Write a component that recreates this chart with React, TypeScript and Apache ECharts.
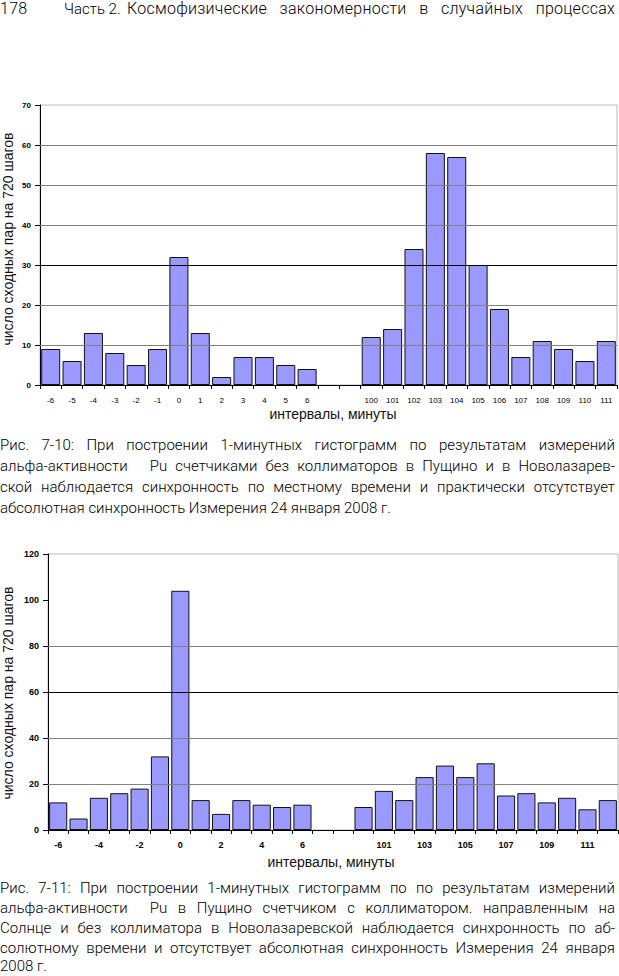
import React, { useEffect, useRef } from "react";
import * as echarts from "echarts";

// ---------- data ----------
const cats1 = ["-6", "-5", "-4", "-3", "-2", "-1", "0", "1", "2", "3", "4", "5", "6", " ", "  ",
  "100", "101", "102", "103", "104", "105", "106", "107", "108", "109", "110", "111"];
const vals1 = [9, 6, 13, 8, 5, 9, 32, 13, 2, 7, 7, 5, 4, null, null,
  12, 14, 34, 58, 57, 30, 19, 7, 11, 9, 6, 11];

const cats2 = ["-6", "-5", "-4", "-3", "-2", "-1", "0", "1", "2", "3", "4", "5", "6", " ", "  ",
  "100", "101", "102", "103", "104", "105", "106", "107", "108", "109", "110", "111", "112"];
const vals2 = [12, 5, 14, 16, 18, 32, 104, 13, 7, 13, 11, 10, 11, null, null,
  10, 17, 13, 23, 28, 23, 29, 15, 16, 12, 14, 9, 13];

const yTicks1 = { min: 0, max: 70, interval: 10 };
const yTicks2 = { min: 0, max: 120, interval: 20 };
const grid1Lines = [10, 20, 30, 40, 50, 60];
const grid2Lines = [20, 40, 60, 80];
const darkLine1 = 30;
const darkLine2 = 60;

const yTitle = "число сходных пар на 720 шагов";
const xTitle = "интервалы, минуты";

const header = { page: "178", part: "Часть 2.", title: "Космофизические закономерности в случайных процессах" };
const caption1 = [
  "Рис. 7-10: При построении 1-минутных гистограмм по результатам измерений",
  "альфа-активности|Pu счетчиками без коллиматоров в Пущино и в Новолазарев-",
  "ской наблюдается синхронность по местному времени и практически отсутствует",
  "абсолютная синхронность Измерения 24 января 2008 г.",
];
const caption2 = [
  "Рис. 7-11: При построении 1-минутных гистограмм по по результатам измерений",
  "альфа-активности|Pu в Пущино счетчиком с коллиматором. направленным на",
  "Солнце и без коллиматора в Новолазаревской наблюдается синхронность по аб-",
  "солютному времени и отсутствует абсолютная синхронность Измерения 24 января",
  "2008 г.",
];

const FONT = 'Arial, "Liberation Sans", sans-serif';
const BAR = "#9999ff";

function lineSeries(xi: number, lines: number[], dark: number) {
  return {
    type: "line",
    xAxisIndex: xi,
    yAxisIndex: xi,
    data: [],
    z: 1,
    silent: true,
    markLine: {
      silent: true,
      symbol: ["none", "none"],
      label: { show: false },
      animation: false,
      data: lines.map((v) => ({
        yAxis: v,
        lineStyle: { color: v === dark ? "#000" : "#808080", width: 1, type: "solid" },
      })),
    },
  };
}

export default function App() {
  const ref = useRef<HTMLDivElement>(null);
  useEffect(() => {
    if (!ref.current) return;
    const chart = echarts.init(ref.current, undefined, { renderer: "svg" });
    const xAxisBase = (cats: string[], fontSize: number, bold: boolean, labelInterval: number, gi: number) => ({
      type: "category",
      gridIndex: gi,
      data: cats,
      boundaryGap: true,
      axisLine: { lineStyle: { color: "#000", width: 1 } },
      axisTick: { show: true, interval: 0, length: 4, lineStyle: { color: "#000" } },
      axisLabel: {
        interval: labelInterval,
        fontFamily: FONT,
        fontSize,
        fontWeight: bold ? "bold" : "normal",
        color: "#000",
        margin: bold ? 10 : 11,
      },
      splitLine: { show: false },
    });
    const yAxisBase = (t: { min: number; max: number; interval: number }, fontSize: number, gi: number) => ({
      type: "value",
      gridIndex: gi,
      min: t.min,
      max: t.max,
      interval: t.interval,
      axisLine: { show: true, lineStyle: { color: "#000", width: 1 } },
      axisTick: { show: true, length: 5, lineStyle: { color: "#000" } },
      axisLabel: { fontFamily: FONT, fontSize, fontWeight: "bold", color: "#000", margin: 9 },
      splitLine: { show: false },
    });
    const barSeries = (vals: (number | null)[], gi: number) => ({
      type: "bar",
      xAxisIndex: gi,
      yAxisIndex: gi,
      data: vals.map((v) => (v === null ? "-" : v)),
      barCategoryGap: "11%",
      z: 3,
      itemStyle: { color: BAR, borderColor: "#111", borderWidth: 1 },
    });
    const titleStyle = (t: string) => ({ text: t, font: `14px ${FONT}`, fill: "#111", align: "center", verticalAlign: "middle" });
    chart.setOption({
      animation: false,
      backgroundColor: "transparent",
      grid: [
        { left: 40, top: 105, width: 577, height: 280, show: true, borderColor: "#bbb", borderWidth: 1, backgroundColor: "transparent" },
        { left: 48, top: 554, width: 570, height: 276, show: true, borderColor: "#bbb", borderWidth: 1, backgroundColor: "transparent" },
      ],
      xAxis: [xAxisBase(cats1, 8, false, 0, 0), xAxisBase(cats2, 9, true, 1, 1)],
      yAxis: [yAxisBase(yTicks1, 8, 0), yAxisBase(yTicks2, 9, 1)],
      series: [
        lineSeries(0, grid1Lines, darkLine1),
        lineSeries(1, grid2Lines, darkLine2),
        barSeries(vals1, 0),
        barSeries(vals2, 1),
      ],
      graphic: [
        { type: "text", x: 8, y: 239, rotation: Math.PI / 2, style: titleStyle(yTitle) },
        { type: "text", x: 8, y: 693, rotation: Math.PI / 2, style: titleStyle(yTitle) },
        { type: "text", x: 333, y: 414, style: titleStyle(xTitle) },
        { type: "text", x: 331, y: 862, style: titleStyle(xTitle) },
      ],
    });
    return () => chart.dispose();
  }, []);

  const textFont = 'Roboto, "Noto Sans", sans-serif';
  const lineStyle = (center: number, last: boolean): React.CSSProperties => ({
    position: "absolute",
    left: 0,
    top: center - 7,
    width: 615,
    height: 14,
    lineHeight: "14px",
    fontFamily: textFont,
    fontSize: 15,
    color: "#000",
    whiteSpace: "nowrap",
    textAlign: last ? "left" : "justify",
    textAlignLast: last ? "left" : "justify",
    fontWeight: 300,
  });
  const renderLine = (s: string) => {
    const parts = s.split("|");
    if (parts.length === 1) return s;
    return (
      <>
        {parts[0]}
        <span style={{ display: "inline-block", width: 22 }} />
        {parts[1]}
      </>
    );
  };
  const renderCaption = (lines: string[], centers: number[]) =>
    lines.map((l, i) => (
      <div key={centers[i]} style={lineStyle(centers[i], i === lines.length - 1)}>
        {renderLine(l)}
      </div>
    ));

  const headStyle: React.CSSProperties = {
    position: "absolute",
    top: 1,
    height: 16,
    fontFamily: textFont,
    fontSize: 16,
    fontWeight: 300,
    lineHeight: "16px",
    letterSpacing: "0.25px",
    whiteSpace: "nowrap",
  };

  return (
    <div style={{ position: "absolute", left: 0, top: 0, width: 619, height: 976, background: "#fff", overflow: "hidden" }}>
      <div ref={ref} style={{ position: "absolute", left: 0, top: 0, width: 619, height: 976 }} />
      <div style={{ ...headStyle, left: 0 }}>{header.page}</div>
      <div style={{ ...headStyle, left: 64, fontSize: 15, letterSpacing: "0px" }}>{header.part}</div>
      <div style={{ ...headStyle, left: 127, width: 488, textAlign: "justify", textAlignLast: "justify" }}>{header.title}</div>
      {renderCaption(caption1, [445, 466, 487, 508])}
      {renderCaption(caption2, [888, 908, 928, 948, 966])}
    </div>
  );
}
